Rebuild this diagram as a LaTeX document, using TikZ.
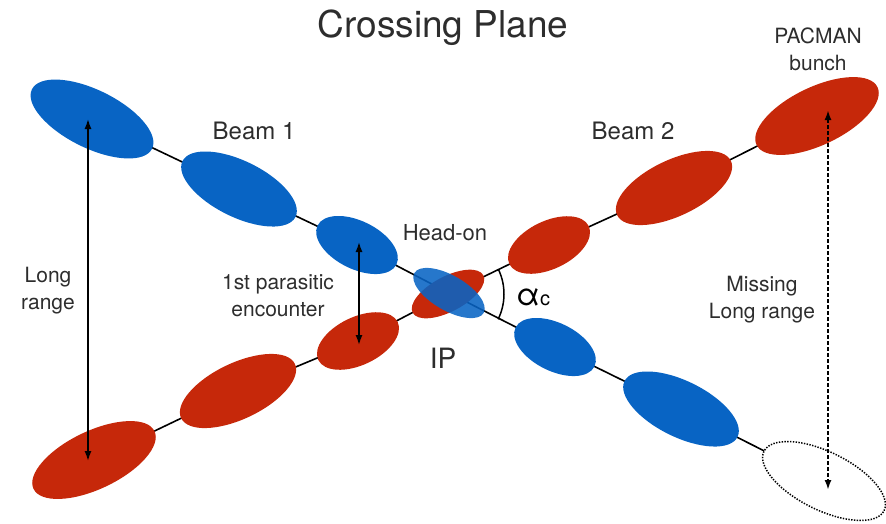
\documentclass[tikz,border=0pt]{standalone}
\usepackage{fontspec}
\setmainfont{TeX Gyre Heros}
\usetikzlibrary{shapes.geometric,arrows.meta,backgrounds}
\definecolor{beamblue}{RGB}{8,100,196}
\definecolor{beamred}{RGB}{198,40,10}
\definecolor{txt}{RGB}{45,45,45}

\begin{document}
\begin{tikzpicture}[x=1pt,y=-1pt,
  bunch/.style={ellipse, inner sep=0pt, outer sep=0pt, draw=none},
  bunchL/.style={bunch, minimum width=134pt, minimum height=58pt},
  bunchM/.style={bunch, minimum width=126pt, minimum height=56pt},
  bunchS/.style={bunch, minimum width=88pt, minimum height=48pt},
  bunchIP/.style={bunch, minimum width=80pt, minimum height=35pt},
  beamone/.style={fill=beamblue, rotate=-26.3},
  beamtwo/.style={fill=beamred, rotate=25.5},
  link/.style={line width=1.6pt, black},
  lbl/.style={text=txt, font=\fontsize{21}{27}\selectfont, align=center},
  span/.style={line width=1.5pt, {Latex[length=10pt,width=7pt]}-{Latex[length=10pt,width=7pt]}}
]
\useasboundingbox (0,0) rectangle (886,523);

% Beam 2 (red), rising to the right
\node[bunchL, beamtwo] (r1) at (94,460) {};
\node[bunchM, beamtwo] (r2) at (238,391) {};
\node[bunchS, beamtwo] (r3) at (358,341) {};
\node[bunchIP, fill=beamred, rotate=28] (rip) at (448,294) {};
\node[bunchS, beamtwo] (r4) at (549,245) {};
\node[bunchM, beamtwo] (r5) at (674,188) {};
\node[bunchL, beamtwo] (r6) at (817,116) {};

% Beam 1 (blue), falling to the right
\node[bunchL, beamone] (b1) at (92,119) {};
\node[bunchM, beamone] (b2) at (239,189) {};
\node[bunchS, beamone] (b3) at (357,245) {};
\node[bunchIP, fill=beamblue, fill opacity=0.88, rotate=-30] (bip) at (449,293) {};
\node[bunchS, beamone] (b4) at (555,347) {};
\node[bunchM, beamone] (b5) at (681,409) {};
\node[bunchL, rotate=-26.3, draw=black, line width=1.5pt,
      dash pattern=on 1.4pt off 1.4pt] (b6) at (824,481) {};

% bunch trains
\begin{scope}[on background layer]
  \draw[link] (b1.center) -- (b2.center) -- (b3.center) -- (bip.center)
              -- (b4.center) -- (b5.center) -- (b6);
  \draw[link] (r1.center) -- (r2.center) -- (r3.center) -- (rip.center)
              -- (r4.center) -- (r5.center) -- (r6.center);
\end{scope}

% crossing angle
\coordinate (ipc) at (447,294);
\draw[line width=1.5pt] (ipc) ++(-25.5:57) arc[start angle=-25.5, end angle=26.3, radius=57];

% separations
\coordinate (lrTop) at (88,119);
\coordinate (lrBot) at (88,461);
\draw[span] (lrTop) -- (lrBot);
\coordinate (peTop) at (359,242);
\coordinate (peBot) at (359,345);
\draw[span] (peTop) -- (peBot);
\coordinate (mlTop) at (828,110);
\coordinate (mlBot) at (828,490);
\draw[line width=2pt, dash pattern=on 3.5pt off 2.5pt, {Latex[length=10pt,width=7pt]}-{Latex[length=10pt,width=7pt]}] (mlTop) -- (mlBot);

% labels
\node[text=txt, font=\fontsize{37}{44}\selectfont] (title) at (443,28) {Crossing Plane};
\node[lbl, font=\fontsize{24}{28}\selectfont] (beam1) at (254,131) {Beam 1};
\node[lbl, font=\fontsize{24}{28}\selectfont] (beam2) at (633,131) {Beam 2};
\node[lbl] (pacman) at (818,49) {PACMAN\\bunch};
\node[lbl, font=\fontsize{22}{27}\selectfont] (headon) at (445,233) {Head-on};
\node[lbl] (longr) at (48,291) {Long\\range};
\node[lbl] (parasitic) at (278,296) {1st parasitic\\encounter};
\node[lbl, font=\fontsize{28}{32}\selectfont] (ip) at (443,358) {IP};
\node[lbl] (missing) at (762,300) {Missing\\Long range};
\node[text=black, inner sep=0pt, anchor=base west] (alpha) at (516,305)
  {\fontsize{31}{32}\selectfont α\fontsize{20}{22}\selectfont c};
\end{tikzpicture}
\end{document}
